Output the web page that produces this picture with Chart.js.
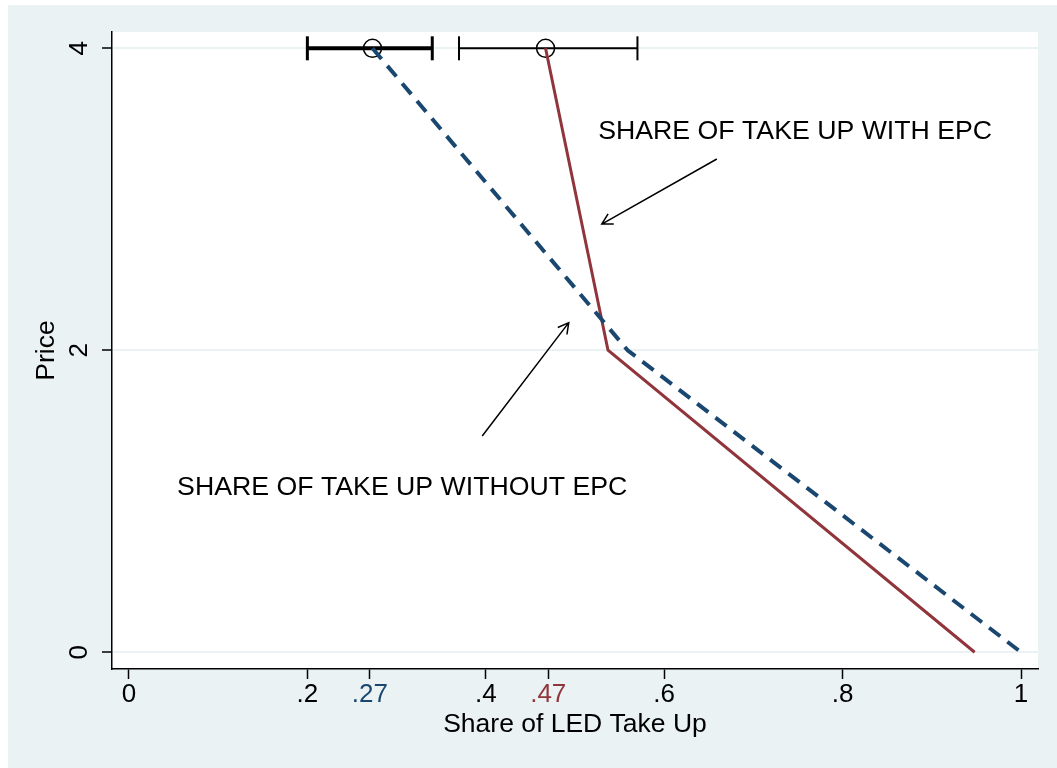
<!DOCTYPE html>
<html>
<head>
<meta charset="utf-8">
<script src="https://cdn.jsdelivr.net/npm/chart.js@4.4.1/dist/chart.umd.min.js"></script>
<style>
  html, body { margin: 0; padding: 0; background: #ffffff; }
  #wrap { width: 1057px; height: 768px; position: relative; }
</style>
</head>
<body>
<div id="wrap"><canvas id="chart"></canvas></div>
<script>
// Data
const withoutEpc = [[0.273, 4], [0.559, 2], [1.0, 0]];      // blue dashed
const withEpc = [[0.467, 4], [0.537, 2], [0.948, 0]];       // red solid
const meanPoints = [[0.273, 4], [0.467, 4]];                // hollow circles
const ciWithout = [[0.2, 4], [0.34, 4]];                    // thick error bar
const ciWith = [[0.37, 4], [0.57, 4]];                      // thin error bar

const xTicks = [0, 0.2, 0.27, 0.4, 0.47, 0.6, 0.8, 1];
const xTickLabels = ['0', '.2', '.27', '.4', '.47', '.6', '.8', '1'];
const yTicks = [0, 2, 4];
const yTickLabels = ['0', '2', '4'];

// Annotations in data units: [x, y] and arrows [from, to]
const notes = [
  { text: 'SHARE OF TAKE UP WITH EPC', at: [0.526, 3.449] },
  { text: 'SHARE OF TAKE UP WITHOUT EPC', at: [0.054, 1.091] },
];
const arrows = [
  [[0.659, 3.267], [0.530, 2.836]],
  [[0.396, 1.432], [0.493, 2.183]],
];

const BLUE = '#1a476f';
const RED = '#90353b';
const PANEL = '#eaf2f3';
const FONT = '"Liberation Sans", Arial, sans-serif';

const pts = arr => arr.map(([x, y]) => ({ x, y }));

const background = {
  id: 'background',
  beforeDraw(chart) {
    const { ctx, chartArea: a } = chart;
    ctx.save();
    ctx.fillStyle = '#ffffff';
    ctx.fillRect(0, 0, chart.width, chart.height);
    ctx.fillStyle = PANEL;
    ctx.fillRect(8, 5, chart.width - 8, chart.height - 5);
    ctx.fillStyle = '#ffffff';
    ctx.fillRect(a.left, a.top, a.right - a.left, a.bottom - a.top);
    ctx.restore();
  },
};

const annotations = {
  id: 'annotations',
  afterDatasetsDraw(chart) {
    const { ctx, scales: { x, y } } = chart;
    ctx.save();
    ctx.fillStyle = '#000';
    ctx.font = '26.7px ' + FONT;
    ctx.textAlign = 'left';
    ctx.textBaseline = 'middle';
    notes.forEach(n => {
      ctx.fillText(n.text, x.getPixelForValue(n.at[0]), y.getPixelForValue(n.at[1]));
    });
    ctx.strokeStyle = '#000';
    ctx.lineWidth = 1.5;
    arrows.forEach(([from, to]) => {
      const x1 = x.getPixelForValue(from[0]), y1 = y.getPixelForValue(from[1]);
      const x2 = x.getPixelForValue(to[0]), y2 = y.getPixelForValue(to[1]);
      const ang = Math.atan2(y2 - y1, x2 - x1);
      const len = 12, spread = 0.5;
      ctx.beginPath();
      ctx.moveTo(x1, y1);
      ctx.lineTo(x2, y2);
      ctx.moveTo(x2 - len * Math.cos(ang - spread), y2 - len * Math.sin(ang - spread));
      ctx.lineTo(x2, y2);
      ctx.lineTo(x2 - len * Math.cos(ang + spread), y2 - len * Math.sin(ang + spread));
      ctx.stroke();
    });
    ctx.restore();
  },
};

new Chart(document.getElementById('chart'), {
  type: 'scatter',
  data: {
    datasets: [
      {
        label: 'without EPC',
        data: pts(withoutEpc),
        showLine: true,
        borderColor: BLUE,
        borderWidth: 4,
        borderDash: [14, 9],
        pointRadius: 0,
        order: 0,
      },
      {
        label: 'with EPC',
        data: pts(withEpc),
        showLine: true,
        borderColor: RED,
        borderWidth: 3,
        pointRadius: 0,
        order: 0,
      },
      {
        label: 'means',
        data: pts(meanPoints),
        pointRadius: 9,
        pointBorderWidth: 1.5,
        pointBorderColor: '#000',
        pointBackgroundColor: 'rgba(0,0,0,0)',
        order: 1,
      },
      {
        label: 'ci without',
        data: pts(ciWithout),
        showLine: true,
        borderColor: '#000',
        borderWidth: 4,
        pointStyle: 'line',
        pointRotation: 90,
        pointRadius: 12,
        pointBorderWidth: 3,
        pointBorderColor: '#000',
        order: 2,
      },
      {
        label: 'ci with',
        data: pts(ciWith),
        showLine: true,
        borderColor: '#000',
        borderWidth: 2,
        pointStyle: 'line',
        pointRotation: 90,
        pointRadius: 12,
        pointBorderWidth: 2,
        pointBorderColor: '#000',
        order: 2,
      },
    ],
  },
  options: {
    responsive: true,
    maintainAspectRatio: false,
    animation: false,
    events: [],
    layout: { padding: { top: 32, right: 19, left: 0, bottom: 0 } },
    plugins: {
      legend: { display: false },
      tooltip: { enabled: false },
    },
    scales: {
      x: {
        type: 'linear',
        min: -0.019,
        max: 1.019,
        afterBuildTicks: s => { s.ticks = xTicks.map(v => ({ value: v })); },
        afterFit: s => { s.height = 99; },
        grid: { drawOnChartArea: false, tickColor: '#000', tickLength: 10, tickWidth: 1.5 },
        border: { display: true, color: '#000', width: 1.5 },
        ticks: {
          autoSkip: false,
          maxRotation: 0,
          padding: 0,
          font: { family: FONT, size: 26 },
          color: c => (c.index === 2 ? BLUE : c.index === 4 ? RED : '#000'),
          callback: (v, i) => xTickLabels[i],
        },
        title: {
          display: true,
          text: 'Share of LED Take Up',
          color: '#000',
          font: { family: FONT, size: 26.5 },
          padding: { top: 0, bottom: 27 },
        },
      },
      y: {
        type: 'linear',
        min: -0.111,
        max: 4.108,
        afterBuildTicks: s => { s.ticks = yTicks.map(v => ({ value: v })); },
        afterFit: s => { s.width = 112; },
        grid: { color: PANEL, lineWidth: 2, tickColor: '#000', tickLength: 10, tickWidth: 1.5 },
        border: { display: true, color: '#000', width: 1.5 },
        ticks: {
          minRotation: 90,
          maxRotation: 90,
          crossAlign: 'center',
          padding: 15,
          font: { family: FONT, size: 26 },
          color: '#000',
          callback: (v, i) => yTickLabels[i],
        },
        title: {
          display: true,
          text: 'Price',
          color: '#000',
          font: { family: FONT, size: 26.5 },
          padding: { top: 31, bottom: 0 },
        },
      },
    },
  },
  plugins: [background, annotations],
});
</script>
</body>
</html>
